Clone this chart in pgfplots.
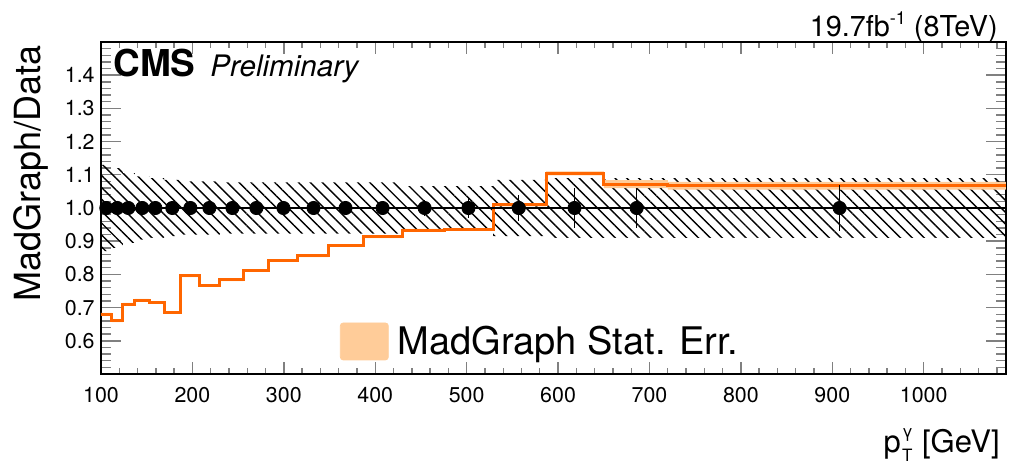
\documentclass[border=0pt]{standalone}
\usepackage{fontspec}
\setmainfont{TeX Gyre Heros}
\usepackage{pgfplots}
\usepackage{pgfplotstable}
\pgfplotsset{compat=1.18}
\usepgfplotslibrary{fillbetween}
\usetikzlibrary{patterns.meta}
\definecolor{mgorange}{RGB}{255,102,0}
\definecolor{mgband}{RGB}{255,204,153}

% MadGraph/Data histogram (left bin edges), stat. error, syst. band half-width
\pgfplotstableread{
x y stat sys
100 0.680 0.004 0.130
112 0.660 0.004 0.120
124 0.710 0.004 0.105
137 0.722 0.004 0.095
153 0.715 0.004 0.090
169 0.685 0.004 0.085
187 0.796 0.004 0.080
208 0.767 0.004 0.080
230 0.784 0.004 0.077
256 0.812 0.004 0.077
283 0.842 0.004 0.077
315 0.856 0.004 0.077
349 0.887 0.004 0.077
387 0.913 0.004 0.077
430 0.933 0.004 0.066
476 0.935 0.004 0.066
529 1.010 0.005 0.085
587 1.104 0.006 0.090
650 1.072 0.012 0.090
720 1.067 0.012 0.090
1090 1.067 0.012 0.090
}\mctable

% data points (ratio to itself = 1)
\pgfplotstableread{
x y err
105.8 1 0.012
117.8 1 0.012
129.9 1 0.012
145.2 1 0.012
159.5 1 0.012
178 1 0.014
197.8 1 0.02
218.6 1 0.014
243.8 1 0.014
270 1 0.015
299.6 1 0.015
332.5 1 0.015
367.5 1 0.016
408 1 0.02
454 1 0.025
502 1 0.03
557 1 0.04
618 1 0.06
686 1 0.06
908 1 0.07
}\datatable

\begin{document}
\begin{tikzpicture}
\begin{axis}[
  at={(0,0)}, anchor=south west,
  scale only axis, width=452.5pt, height=166pt,
  xmin=100, xmax=1090, ymin=0.5, ymax=1.5,
  xtick={100,200,...,1000},
  minor xtick={120,140,...,1080},
  ytick={0.6,0.7,...,1.41},
  minor ytick={0.52,0.54,...,1.49},
  x tick label style={/pgf/number format/1000 sep={}},
  y tick label style={/pgf/number format/fixed, /pgf/number format/fixed zerofill, /pgf/number format/precision=1},
  /pgf/number format/assume math mode=true,
  tick align=inside,
  axis line style={line width=1pt},
  xtick style={line width=0.7pt, /pgfplots/major tick length=6pt, /pgfplots/minor tick length=3pt},
  ytick style={line width=0.7pt, /pgfplots/major tick length=10pt, /pgfplots/minor tick length=5pt},
  ticklabel style={font=\fontsize{10.7}{10.7}\selectfont},
  xticklabel style={inner sep=0pt, yshift=-6.5pt},
  yticklabel style={inner sep=0pt, xshift=-3pt},
  ylabel={MadGraph/Data},
  ylabel style={font=\fontsize{18}{18}\selectfont, inner sep=0pt,
    at={(rel axis cs:-0.077,0.991)}, anchor=east},
  legend style={at={(0.264,0.098)}, anchor=west, draw=none, fill=none,
    inner sep=0pt, outer sep=0pt, font=\fontsize{19}{19}\selectfont,
    nodes={inner sep=0pt}},
  clip=true,
]
% systematic band (hatched)
\addplot[draw=none, const plot mark left, name path=sysup, forget plot]
  table[x=x, y expr=1+\thisrow{sys}] {\mctable};
\addplot[draw=none, const plot mark left, name path=syslo, forget plot]
  table[x=x, y expr=1-\thisrow{sys}] {\mctable};
\addplot[draw=none, pattern={Lines[angle=-45,distance=4.2pt,line width=0.7pt]}, forget plot]
  fill between[of=sysup and syslo];
% MC stat band
\addplot[draw=none, const plot mark left, name path=mcup, forget plot]
  table[x=x, y expr=\thisrow{y}+\thisrow{stat}] {\mctable};
\addplot[draw=none, const plot mark left, name path=mclo, forget plot]
  table[x=x, y expr=\thisrow{y}-\thisrow{stat}] {\mctable};
\addplot[draw=none, fill=mgband, forget plot] fill between[of=mcup and mclo];
% MC line
\addplot[mgorange, line width=1.5pt, const plot mark left, forget plot]
  table[x=x, y=y] {\mctable};
% unity line
\addplot[black, line width=0.6pt, forget plot] coordinates {(100,1) (1090,1)};
% data points
\addplot[only marks, mark=*, mark size=3.3pt, black, forget plot,
  error bars/.cd, y dir=both, y explicit, error mark=none,
  error bar style={line width=0.5pt, black}]
  table[x=x, y=y, y error=err] {\datatable};
% legend
\addlegendimage{legend image code/.code={\fill[mgband, rounded corners=1.5pt] (0pt,-9.25pt) rectangle (24pt,9.25pt); \path (28.5pt,0pt);}}
\addlegendentry{MadGraph Stat. Err.}
% texts
\node[anchor=base west, inner sep=0pt, font=\fontsize{18.5}{18.5}\selectfont\bfseries]
  at (rel axis cs:0.0133,0.8946) {CMS};
\node[anchor=base west, inner sep=0pt, font=\fontsize{14.8}{14.8}\selectfont\itshape]
  at (rel axis cs:0.1204,0.8946) {Preliminary};
\end{axis}
% outside texts, relative to axis box (0,0)-(452.5pt,166pt)
\node[anchor=base east, inner sep=0pt, font=\fontsize{14.4}{14.4}\selectfont]
  at (448.5pt,168.5pt) {19.7fb\raisebox{0.45em}{\fontsize{9}{9}\selectfont -1} (8TeV)};
\node[anchor=base east, inner sep=0pt, font=\fontsize{15.5}{15.5}\selectfont]
  at (449.5pt,-39pt) {p\kern0.6pt{\fontsize{8.5}{8.5}\selectfont\rlap{\raisebox{7.5pt}{γ}}\raisebox{-4.5pt}{T}}\kern0.5pt{} [GeV]};
\pgfresetboundingbox
\path (-50.5pt,-46pt) rectangle (457.5pt,187pt);
\end{tikzpicture}
\end{document}
